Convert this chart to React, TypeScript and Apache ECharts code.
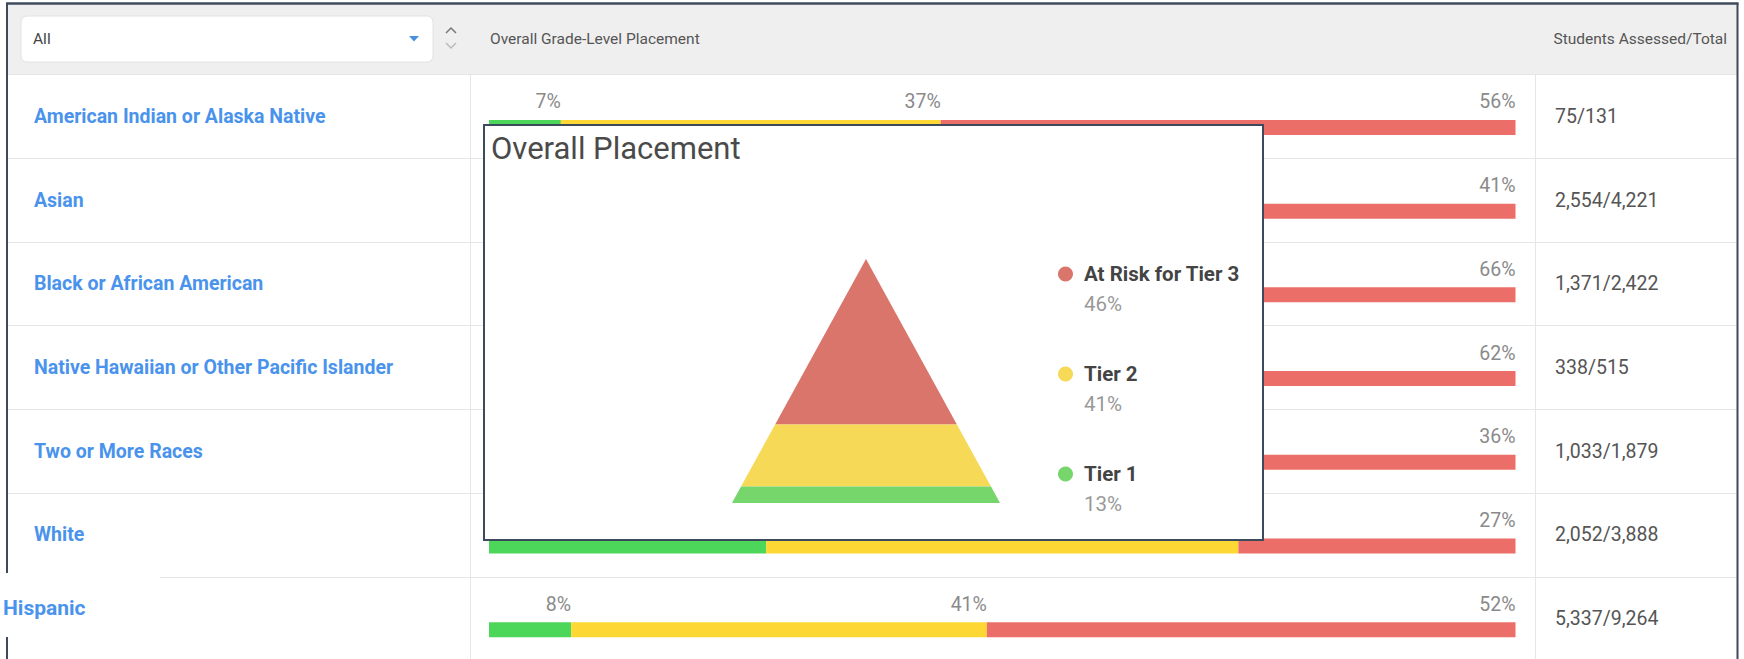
import React, { useEffect, useRef } from 'react';
import * as echarts from 'echarts';

// ---------- data ----------
const groups = [
  'American Indian or Alaska Native',
  'Asian',
  'Black or African American',
  'Native Hawaiian or Other Pacific Islander',
  'Two or More Races',
  'White',
  'Hispanic',
];
const tier1 = [7, 21, 6, 8, 19, 27, 8];
const tier2 = [37, 38, 28, 30, 45, 46, 40.5];
const tier3 = [56, 41, 66, 62, 36, 27, 51.5];
const assessed = [75, 2554, 1371, 338, 1033, 2052, 5337];
const totals = [131, 4221, 2422, 515, 1879, 3888, 9264];

const tierNames = ['At Risk for Tier 3', 'Tier 2', 'Tier 1'];
const tierPct = [46, 41, 13];

const filterValue = 'All';
const headerPlacement = 'Overall Grade-Level Placement';
const headerCounts = 'Students Assessed/Total';
const popupTitle = 'Overall Placement';

// ---------- styling / layout ----------
const FONT = 'Roboto, "Noto Sans", sans-serif';
const W = 1744;
const H = 659;
const ROW_TOP = 74.6;
const ROW_H = 83.7;
const BORDER = '#3d4a5c';
const LINE = '#e6e6e6';
const BAR_COLORS = ['#4cd65a', '#fdd835', '#eb6e68'];
const PYR_COLORS = ['#d9756a', '#f5d957', '#76d56b'];
const PYR = { cx: 866, top: 259, h: 244, w: 268 };

export default function App() {
  const ref = useRef<HTMLDivElement>(null);

  useEffect(() => {
    if (!ref.current) return;
    const chart = echarts.init(ref.current, undefined, { renderer: 'svg' });
    const gridH = ROW_H * groups.length;
    const pctTotal = tierPct.reduce((a, b) => a + b, 0);

    const pyramidSeries = tierNames.map((name, k) => ({
      type: 'custom',
      name,
      coordinateSystem: 'none',
      silent: true,
      z: 6,
      itemStyle: { color: PYR_COLORS[k] },
      data: [[tierPct[k]]],
      renderItem: (_params: any, api: any) => {
        const before = tierPct.slice(0, k).reduce((a, b) => a + b, 0);
        const v = api.value(0);
        const h0 = PYR.h * Math.sqrt(before / pctTotal);
        const h1 = PYR.h * Math.sqrt((before + v) / pctTotal);
        const w0 = ((PYR.w / 2) * h0) / PYR.h;
        const w1 = ((PYR.w / 2) * h1) / PYR.h;
        return {
          type: 'polygon',
          shape: {
            points: [
              [PYR.cx - w0, PYR.top + h0],
              [PYR.cx + w0, PYR.top + h0],
              [PYR.cx + w1, PYR.top + h1],
              [PYR.cx - w1, PYR.top + h1],
            ],
          },
          style: { fill: api.visual('color') },
        };
      },
    }));

    const barSeries = [tier1, tier2, tier3].map((d, i) => ({
      type: 'bar',
      name: ['Tier 1 bar', 'Tier 2 bar', 'Tier 3 bar'][i],
      stack: 'placement',
      xAxisIndex: 2,
      yAxisIndex: 3,
      barWidth: 15,
      z: 2,
      silent: true,
      data: d,
      itemStyle: { color: BAR_COLORS[i] },
      label: {
        show: true,
        position: ['100%', '0%'],
        offset: [0, -18],
        align: 'right',
        verticalAlign: 'middle',
        color: '#8a8a8a',
        fontSize: 19.5,
        fontFamily: FONT,
        formatter: (p: any) => `${Math.round(p.value)}%`,
      },
    }));

    const option: any = {
      animation: false,
      textStyle: { fontFamily: FONT },
      title: {
        text: popupTitle,
        left: 491,
        top: 130.5,
        padding: 0,
        z: 8,
        textStyle: { fontSize: 31, fontWeight: 'normal', color: '#4a4a4a', fontFamily: FONT, lineHeight: 36 },
      },
      legend: {
        orient: 'vertical',
        left: 1058,
        top: 263.5,
        padding: 0,
        z: 8,
        selectedMode: false,
        data: tierNames,
        icon: 'circle',
        itemWidth: 15,
        itemHeight: 15,
        itemGap: 49.5,
        textGap: 10,
        textStyle: {
          padding: [35, 0, 0, 6],
          rich: {
            n: { fontSize: 20.5, fontWeight: 'bold', color: '#444', lineHeight: 24, fontFamily: FONT },
            p: { fontSize: 20.5, color: '#999', lineHeight: 35, fontFamily: FONT },
          },
        },
        formatter: (name: string) => `{n|${name}}\n{p|${tierPct[tierNames.indexOf(name)]}%}`,
      },
      grid: [
        { left: 8, right: 7, top: ROW_TOP, height: gridH, outerBoundsMode: 'none' },
        { left: 470, right: W - 1535, top: ROW_TOP, height: gridH, outerBoundsMode: 'none' },
        { left: 489, right: W - 1515.5, top: ROW_TOP + 11, height: gridH, outerBoundsMode: 'none' },
      ],
      xAxis: [
        { type: 'value', gridIndex: 0, show: false },
        { type: 'value', gridIndex: 1, show: false },
        { type: 'value', gridIndex: 2, show: false, min: 0, max: 100 },
      ],
      yAxis: [
        {
          type: 'category', gridIndex: 0, inverse: true, data: groups, z: 0,
          axisLine: { show: false }, axisTick: { show: false }, axisLabel: { show: false },
          splitLine: { show: true, lineStyle: { color: LINE, width: 1 } },
        },
        {
          type: 'category', gridIndex: 1, inverse: true, data: groups, position: 'left', z: 4,
          axisLine: { show: true, lineStyle: { color: LINE, width: 1 } },
          axisTick: { show: false }, splitLine: { show: false },
          axisLabel: {
            interval: 0,
            align: 'left',
            margin: 467,
            formatter: (v: string, idx: number) => (idx === groups.length - 1 ? `{h|${v}}` : `{a|${v}}`),
            rich: {
              a: { fontSize: 19.5, fontWeight: 'bold', color: '#4a93ec', fontFamily: FONT, padding: [0, 0, 0, 31] },
              h: { fontSize: 21, fontWeight: 'bold', color: '#4a93ec', fontFamily: FONT, padding: [0, 0, 22, 0] },
            },
          },
        },
        {
          type: 'category', gridIndex: 1, inverse: true, data: groups, position: 'right', z: 4,
          axisLine: { show: true, lineStyle: { color: LINE, width: 1 } },
          axisTick: { show: false }, splitLine: { show: false },
          axisLabel: {
            interval: 0,
            align: 'left',
            margin: 20,
            fontSize: 19.5,
            color: '#555',
            fontFamily: FONT,
            formatter: (_v: string, idx: number) =>
              `${assessed[idx].toLocaleString('en-US')}/${totals[idx].toLocaleString('en-US')}`,
          },
        },
        { type: 'category', gridIndex: 2, inverse: true, data: groups, show: false },
      ],
      graphic: {
        elements: [
          { type: 'rect', z: 0, silent: true, shape: { x: 8, y: 4, width: 1729, height: 71 }, style: { fill: '#efefef' } },
          { type: 'line', z: 1, silent: true, shape: { x1: 6, y1: 3.5, x2: 1738.5, y2: 3.5 }, style: { stroke: BORDER, lineWidth: 2.5 } },
          { type: 'line', z: 1, silent: true, shape: { x1: 7, y1: 3, x2: 7, y2: H }, style: { stroke: BORDER, lineWidth: 2 } },
          { type: 'line', z: 1, silent: true, shape: { x1: 1737.5, y1: 3, x2: 1737.5, y2: H }, style: { stroke: BORDER, lineWidth: 2 } },
          { type: 'rect', z: 2, silent: true, shape: { x: 0, y: 573, width: 160, height: 64 }, style: { fill: '#ffffff' } },
          { type: 'rect', z: 1, silent: true, shape: { x: 21, y: 16, width: 412, height: 46, r: 6 }, style: { fill: '#ffffff', stroke: '#e2e2e2', lineWidth: 1 } },
          { type: 'text', z: 1, silent: true, x: 33, y: 39, style: { text: filterValue, font: `15.5px ${FONT}`, fill: '#444', verticalAlign: 'middle' } },
          { type: 'polygon', z: 1, silent: true, shape: { points: [[409, 36], [419, 36], [414, 41.5]] }, style: { fill: '#4a90e2' } },
          { type: 'polyline', z: 1, silent: true, shape: { points: [[446, 33], [451, 28], [456, 33]] }, style: { stroke: '#777', lineWidth: 1.5, fill: 'none' } },
          { type: 'polyline', z: 1, silent: true, shape: { points: [[446, 43], [451, 48], [456, 43]] }, style: { stroke: '#bbb', lineWidth: 1.5, fill: 'none' } },
          { type: 'text', z: 1, silent: true, x: 490, y: 38.5, style: { text: headerPlacement, font: `15.5px ${FONT}`, fill: '#555', verticalAlign: 'middle' } },
          { type: 'text', z: 1, silent: true, x: 1727, y: 38.5, style: { text: headerCounts, font: `15.5px ${FONT}`, fill: '#555', verticalAlign: 'middle', align: 'right' } },
          { type: 'rect', z: 5, silent: true, shape: { x: 484, y: 125, width: 779, height: 415 }, style: { fill: '#ffffff', stroke: BORDER, lineWidth: 2 } },
        ],
      },
      series: [...pyramidSeries, ...barSeries],
    };

    chart.setOption(option);
    return () => chart.dispose();
  }, []);

  return <div ref={ref} style={{ position: 'fixed', left: 0, top: 0, width: W, height: H, background: '#fff' }} />;
}
